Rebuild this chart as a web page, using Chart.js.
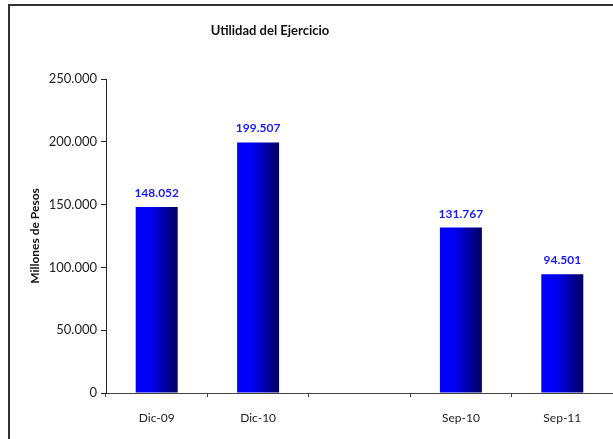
<!DOCTYPE html>
<html>
<head>
<meta charset="utf-8">
<script src="https://cdn.jsdelivr.net/npm/chart.js@4/dist/chart.umd.min.js"></script>
<style>
  html, body { margin: 0; padding: 0; background: #fff; overflow: hidden; }
  #wrap { position: relative; width: 613px; height: 439px; overflow: hidden; }
  #frame {
    position: absolute; left: 8px; top: 4px; width: 700px; height: 600px;
    border-left: 2px solid #333; border-top: 2px solid #333;
  }
  #chart { position: absolute; left: 0; top: 0; }
</style>
</head>
<body>
<div id="wrap">
  <div id="frame"></div>
  <canvas id="chart" width="613" height="439"></canvas>
</div>
<script>
const periods = ['Dic-09', 'Dic-10', '', 'Sep-10', 'Sep-11'];
const utilidad = [148052, 199507, null, 131767, 94501];
const yMax = 250000;
const yStep = 50000;
const chartTitle = 'Utilidad del Ejercicio';
const yTitle = 'Millones de Pesos';

const FONT = 'Lato, "Open Sans", sans-serif';

function formatMiles(v) {
  // 148052 -> 148.052
  return String(Math.round(v)).replace(/\B(?=(\d{3})+(?!\d))/g, '.');
}

function barGradient(context) {
  const chart = context.chart;
  const x = chart.scales.x;
  if (!x || !chart.chartArea) return '#0000ff';
  const center = x.getPixelForValue(context.dataIndex);
  const half = (x.width / periods.length) * 0.414 / 2;
  const g = chart.ctx.createLinearGradient(center - half, 0, center + half, 0);
  g.addColorStop(0, '#0000ff');
  g.addColorStop(0.35, '#0000f2');
  g.addColorStop(1, '#00005e');
  return g;
}

// titulo desplazado a la izquierda, como en el original
const titlePlugin = {
  id: 'offsetTitle',
  afterDraw(chart) {
    const ctx = chart.ctx;
    ctx.save();
    ctx.fillStyle = '#111';
    ctx.font = 'bold 13px ' + FONT;
    ctx.textAlign = 'center';
    ctx.textBaseline = 'middle';
    ctx.fillText(chartTitle, 270, 31);
    ctx.restore();
  }
};

const valueLabels = {
  id: 'valueLabels',
  afterDatasetsDraw(chart) {
    const ctx = chart.ctx;
    const meta = chart.getDatasetMeta(0);
    ctx.save();
    ctx.fillStyle = '#1a1aff';
    ctx.font = 'bold 12px ' + FONT;
    ctx.textAlign = 'center';
    ctx.textBaseline = 'alphabetic';
    meta.data.forEach((bar, i) => {
      const v = utilidad[i];
      if (v === null) return;
      ctx.fillText(formatMiles(v), bar.x, bar.y - 10);
    });
    ctx.restore();
  }
};

new Chart(document.getElementById('chart'), {
  type: 'bar',
  data: {
    labels: periods,
    datasets: [{
      label: chartTitle,
      data: utilidad,
      backgroundColor: barGradient,
      categoryPercentage: 1,
      barPercentage: 0.414,
    }],
  },
  options: {
    responsive: false,
    animation: false,
    layout: {
      padding: { left: 0, right: 0, top: 79, bottom: 0 }
    },
    scales: {
      x: {
        afterFit(scale) { scale.height = 46; },
        grid: {
          offset: true,
          drawOnChartArea: false,
          tickLength: 4,
          color: '#444',
        },
        border: { color: '#444', width: 1 },
        ticks: {
          color: '#222',
          padding: 14,
          font: { family: FONT, size: 12 },
        },
      },
      y: {
        min: 0,
        max: yMax,
        afterFit(scale) { scale.width = 106; },
        grid: {
          drawOnChartArea: false,
          tickLength: 5,
          color: '#222',
        },
        border: { color: '#222', width: 1 },
        ticks: {
          stepSize: yStep,
          color: '#222',
          padding: 4,
          font: { family: FONT, size: 13 },
          callback: v => formatMiles(v),
        },
        title: {
          display: true,
          text: yTitle,
          color: '#111',
          padding: { top: 28, bottom: 0 },
          font: { family: FONT, size: 12, weight: 'bold' },
        },
      },
    },
    plugins: {
      legend: { display: false },
      tooltip: { enabled: false },
      title: { display: false },
    },
  },
  plugins: [titlePlugin, valueLabels],
});
</script>
</body>
</html>
